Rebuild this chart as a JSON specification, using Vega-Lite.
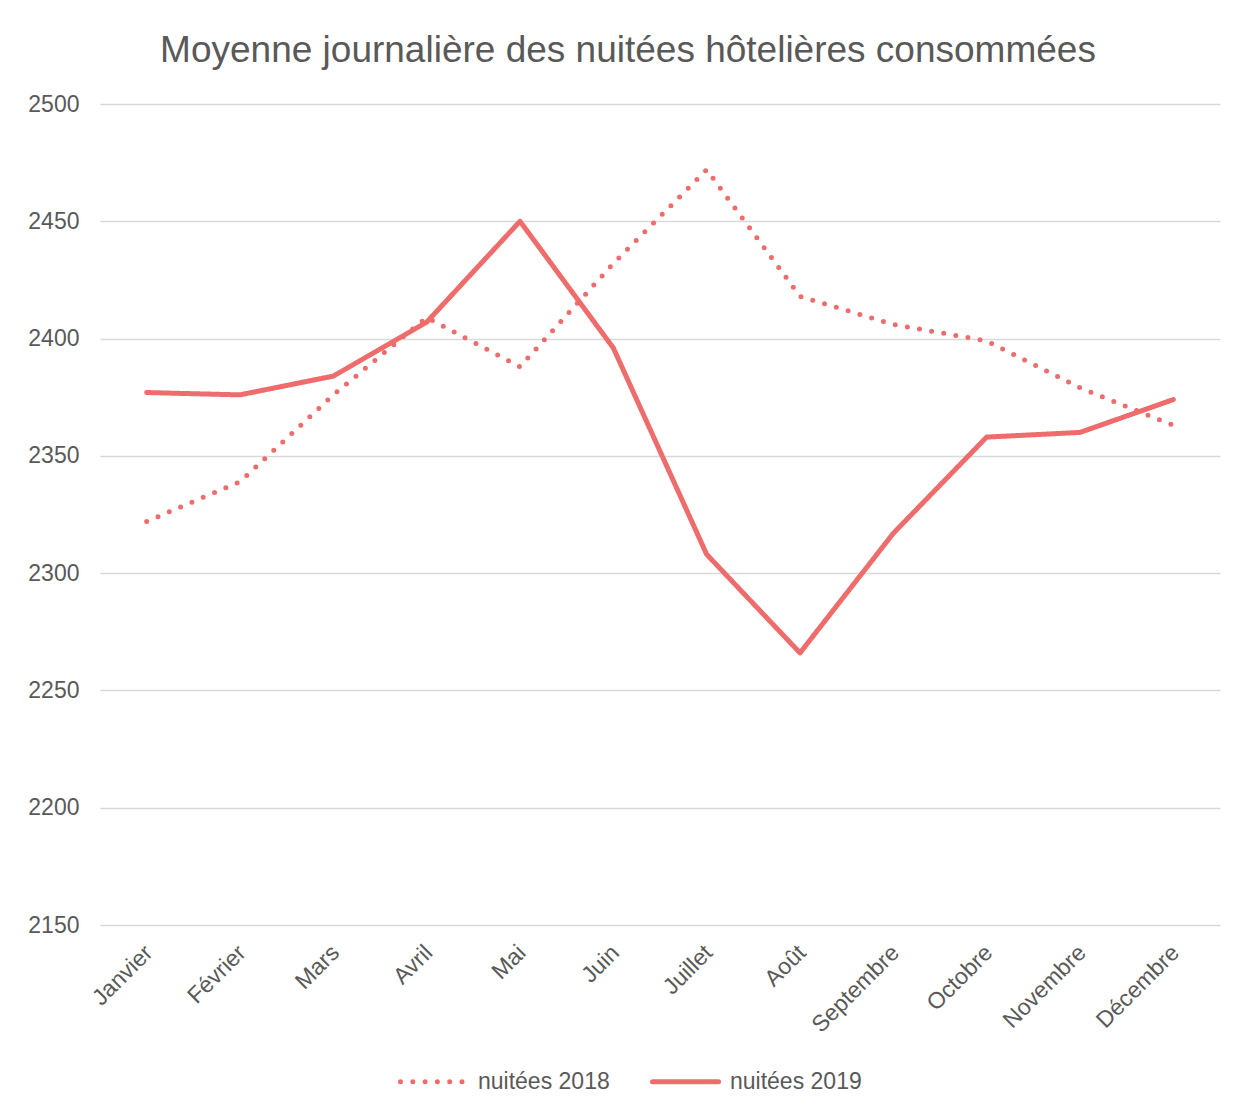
{
  "$schema": "https://vega.github.io/schema/vega-lite/v6.json",
  "width": 1120,
  "height": 821,
  "autosize": {"type": "none"},
  "padding": {"left": 100, "top": 104, "right": 16, "bottom": 183},
  "background": "white",
  "config": {"view": {"stroke": null}},
  "title": {
    "text": "Moyenne journalière des nuitées hôtelières consommées",
    "font": "Liberation Sans",
    "fontSize": 37,
    "fontWeight": "normal",
    "color": "#595959",
    "anchor": "middle",
    "frame": "group",
    "dx": -32,
    "baseline": "alphabetic",
    "offset": -6
  },
  "data": {
    "values": [
      {"mois": "Janvier", "serie": "nuitées 2018", "valeur": 2322},
      {"mois": "Février", "serie": "nuitées 2018", "valeur": 2339},
      {"mois": "Mars", "serie": "nuitées 2018", "valeur": 2376},
      {"mois": "Avril", "serie": "nuitées 2018", "valeur": 2409},
      {"mois": "Mai", "serie": "nuitées 2018", "valeur": 2388},
      {"mois": "Juin", "serie": "nuitées 2018", "valeur": 2432},
      {"mois": "Juillet", "serie": "nuitées 2018", "valeur": 2472},
      {"mois": "Août", "serie": "nuitées 2018", "valeur": 2418},
      {"mois": "Septembre", "serie": "nuitées 2018", "valeur": 2406},
      {"mois": "Octobre", "serie": "nuitées 2018", "valeur": 2399},
      {"mois": "Novembre", "serie": "nuitées 2018", "valeur": 2379},
      {"mois": "Décembre", "serie": "nuitées 2018", "valeur": 2363},
      {"mois": "Janvier", "serie": "nuitées 2019", "valeur": 2377},
      {"mois": "Février", "serie": "nuitées 2019", "valeur": 2376},
      {"mois": "Mars", "serie": "nuitées 2019", "valeur": 2384},
      {"mois": "Avril", "serie": "nuitées 2019", "valeur": 2407},
      {"mois": "Mai", "serie": "nuitées 2019", "valeur": 2450},
      {"mois": "Juin", "serie": "nuitées 2019", "valeur": 2396},
      {"mois": "Juillet", "serie": "nuitées 2019", "valeur": 2308},
      {"mois": "Août", "serie": "nuitées 2019", "valeur": 2266},
      {"mois": "Septembre", "serie": "nuitées 2019", "valeur": 2317},
      {"mois": "Octobre", "serie": "nuitées 2019", "valeur": 2358},
      {"mois": "Novembre", "serie": "nuitées 2019", "valeur": 2360},
      {"mois": "Décembre", "serie": "nuitées 2019", "valeur": 2374}
    ]
  },
  "mark": {
    "type": "line",
    "strokeWidth": 5,
    "strokeCap": "round",
    "strokeJoin": "round",
    "color": "#EE6C6C"
  },
  "encoding": {
    "x": {
      "field": "mois",
      "type": "nominal",
      "sort": ["Janvier", "Février", "Mars", "Avril", "Mai", "Juin", "Juillet", "Août", "Septembre", "Octobre", "Novembre", "Décembre"],
      "scale": {"padding": 0.5},
      "axis": {
        "title": null,
        "labelAngle": -45,
        "labelFont": "Liberation Sans",
        "labelFontSize": 23,
        "labelColor": "#595959",
        "ticks": false,
        "domain": false,
        "grid": false,
        "labelPadding": 16,
        "labelOffset": -6
      }
    },
    "y": {
      "field": "valeur",
      "type": "quantitative",
      "scale": {"domain": [2150, 2500], "zero": false, "nice": false},
      "axis": {
        "title": null,
        "format": "d",
        "values": [2150, 2200, 2250, 2300, 2350, 2400, 2450, 2500],
        "grid": true,
        "gridColor": "#D9D9D9",
        "gridWidth": 1.5,
        "domain": false,
        "ticks": false,
        "labelPadding": 21,
        "labelFont": "Liberation Sans",
        "labelFontSize": 23,
        "labelColor": "#595959"
      }
    },
    "strokeDash": {
      "field": "serie",
      "type": "nominal",
      "scale": {"domain": ["nuitées 2018", "nuitées 2019"], "range": [[0, 12.3], [1, 0]]},
      "legend": {
        "title": null,
        "orient": "none",
        "legendX": 298,
        "legendY": 942,
        "direction": "horizontal",
        "symbolType": "stroke",
        "symbolSize": 4356,
        "symbolStrokeWidth": 5,
        "symbolStrokeColor": "#EE6C6C",
        "labelFont": "Liberation Sans",
        "labelFontSize": 23,
        "labelColor": "#595959",
        "labelOffset": 9,
        "columnPadding": 32,
        "encode": {"symbols": {"update": {"strokeCap": {"value": "round"}}}}
      }
    }
  }
}
